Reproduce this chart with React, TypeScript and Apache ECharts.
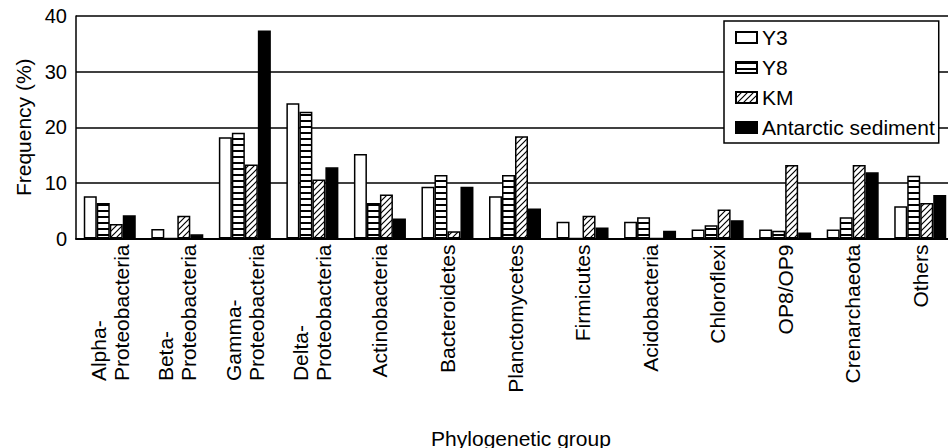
import React, { useEffect, useRef } from "react";
import * as echarts from "echarts";

const categories = [
  "Alpha-\nProteobacteria",
  "Beta-\nProteobacteria",
  "Gamma-\nProteobacteria",
  "Delta-\nProteobacteria",
  "Actinobacteria",
  "Bacteroidetes",
  "Planctomycetes",
  "Firmicutes",
  "Acidobacteria",
  "Chloroflexi",
  "OP8/OP9",
  "Crenarchaeota",
  "Others",
];
const seriesNames = ["Y3", "Y8", "KM", "Antarctic sediment"];
const y3 = [7.6, 1.7, 18.2, 24.3, 15.2, 9.3, 7.6, 3.0, 3.0, 1.6, 1.6, 1.6, 5.8];
const y8 = [6.4, 0, 19.0, 22.8, 6.4, 11.4, 11.4, 0, 3.8, 2.4, 1.4, 3.8, 11.3];
const km = [2.6, 4.1, 13.3, 10.6, 7.9, 1.3, 18.4, 4.1, 0, 5.2, 13.2, 13.2, 6.4];
const antarctic = [4.2, 0.75, 37.4, 12.8, 3.6, 9.3, 5.4, 2.0, 1.4, 3.3, 1.1, 11.9, 7.8];
const yTicks = { min: 0, max: 40, interval: 10 };

const FONT = "'Liberation Sans', Arial, Helvetica, sans-serif";

function makeStripes() {
  const c = document.createElement("canvas");
  c.width = 4;
  c.height = 6;
  const g = c.getContext("2d")!;
  g.fillStyle = "#fff";
  g.fillRect(0, 0, 4, 6);
  g.fillStyle = "#000";
  g.fillRect(0, 0, 4, 2);
  return c;
}

function makeHatch() {
  const s = 6;
  const c = document.createElement("canvas");
  c.width = s;
  c.height = s;
  const g = c.getContext("2d")!;
  g.fillStyle = "#fff";
  g.fillRect(0, 0, s, s);
  g.strokeStyle = "#000";
  g.lineWidth = 1.2;
  g.beginPath();
  g.moveTo(0, s);
  g.lineTo(s, 0);
  g.moveTo(-1, 1);
  g.lineTo(1, -1);
  g.moveTo(s - 1, s + 1);
  g.lineTo(s + 1, s - 1);
  g.stroke();
  return c;
}

export default function App() {
  const ref = useRef<HTMLDivElement>(null);
  useEffect(() => {
    if (!ref.current) return;
    const chart = echarts.init(ref.current, null, { renderer: "svg" });
    const fills: any[] = [
      "#fff",
      { image: makeStripes(), repeat: "repeat" },
      { image: makeHatch(), repeat: "repeat" },
      "#000",
    ];
    const datas = [y3, y8, km, antarctic];
    chart.setOption({
      animation: false,
      backgroundColor: "#fff",
      textStyle: { fontFamily: FONT, color: "#000" },
      grid: { left: 76, right: -6, top: 16, bottom: 209.5, outerBoundsMode: "none", containLabel: false },
      legend: {
        orient: "vertical",
        left: 724,
        top: 21,
        padding: [6, 4, 5, 11],
        itemWidth: 21,
        itemHeight: 11,
        itemGap: 9,
        backgroundColor: "#fff",
        borderColor: "#000",
        borderWidth: 1.5,
        borderRadius: 0,
        icon: "rect",
        textStyle: { fontFamily: FONT, fontSize: 21, color: "#000", padding: [0, 0, 0, 0] },
        data: seriesNames,
      },
      xAxis: {
        type: "category",
        data: categories,
        name: "Phylogenetic group",
        nameLocation: "middle",
        nameGap: 189,
        nameTextStyle: { fontFamily: FONT, fontSize: 21, color: "#000", padding: [0, 0, 0, 12] },
        axisLine: { show: true, lineStyle: { color: "#000", width: 2 } },
        axisTick: { show: false },
        axisLabel: {
          rotate: 90,
          interval: 0,
          margin: 6,
          fontFamily: FONT,
          fontSize: 21,
          lineHeight: 23,
          color: "#000",
          formatter: (v: string) =>
            v
              .split("\n")
              .map((l) => `{l|${l}}`)
              .join("\n"),
          rich: {
            l: { align: "left", fontFamily: FONT, fontSize: 21, lineHeight: 23, color: "#000" },
          },
        },
        splitLine: { show: false },
      },
      yAxis: {
        type: "value",
        min: yTicks.min,
        max: yTicks.max,
        interval: yTicks.interval,
        name: "Frequency (%)",
        nameLocation: "middle",
        nameGap: 38,
        nameTextStyle: { fontFamily: FONT, fontSize: 21, color: "#000" },
        axisLine: { show: true, lineStyle: { color: "#000", width: 1.5 } },
        axisTick: { show: false },
        axisLabel: { margin: 9, fontFamily: FONT, fontSize: 20, color: "#000" },
        splitLine: { show: true, lineStyle: { color: "#000", width: 1.5 } },
      },
      series: seriesNames.map((name, i) => ({
        name,
        type: "bar",
        data: datas[i],
        barWidth: 13,
        barGap: "0%",
        itemStyle: { color: fills[i], borderColor: "#000", borderWidth: 1.5 },
        emphasis: { disabled: true },
      })),
    });
    return () => chart.dispose();
  }, []);
  return (
    <div
      ref={ref}
      style={{ position: "fixed", left: 0, top: 0, width: 948, height: 448, background: "#fff" }}
    />
  );
}
